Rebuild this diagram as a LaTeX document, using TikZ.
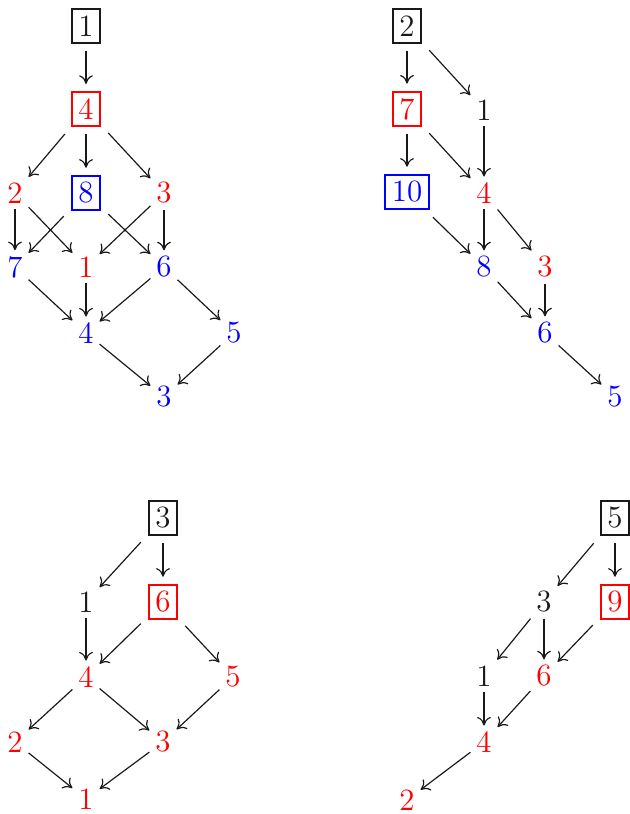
\documentclass[tikz,border=0pt]{standalone}
\usetikzlibrary{arrows.meta}
\definecolor{nblack}{RGB}{25,25,25}
\begin{document}
\begin{tikzpicture}[x=0.465pt,y=-0.465pt,
  every node/.style={font=\Large},
  plain/.style={inner sep=0.5pt,outer sep=2.3pt},
  boxed/.style={draw,line width=0.95pt,inner sep=3pt,outer sep=3.8pt},
  rd/.style={text=red},
  bl/.style={text=blue},
  bk/.style={text=nblack},
  edge/.style={draw=nblack,line width=0.55pt,-{To[length=4pt,width=6.4pt]}}]
\useasboundingbox (0,0) rectangle (630,814);
% panel 1
\node[boxed,bk,draw=nblack] (a1) at (86,26) {1};
\node[boxed,rd,draw=red] (a4) at (86,109) {4};
\node[plain,rd] (a2) at (15,193) {2};
\node[boxed,bl,draw=blue] (a8) at (86,193) {8};
\node[plain,rd] (a3) at (164,193) {3};
\node[plain,bl] (a7) at (15,267) {7};
\node[plain,rd] (a1b) at (86,267) {1};
\node[plain,bl] (a6) at (164,267) {6};
\node[plain,bl] (a4b) at (86,333) {4};
\node[plain,bl] (a5) at (234,333) {5};
\node[plain,bl] (a3b) at (164,397) {3};
\foreach \s/\t in {a1/a4,a4/a2,a4/a8,a4/a3,a2/a7,a2/a1b,a8/a7,a8/a6,a3/a1b,a3/a6,a7/a4b,a1b/a4b,a6/a4b,a6/a5,a4b/a3b,a5/a3b}
  \draw[edge] (\s) -- (\t);
% panel 2
\node[boxed,bk,draw=nblack] (b2) at (407,26) {2};
\node[boxed,rd,draw=red] (b7) at (407,109) {7};
\node[plain,bk] (b1) at (484,110) {1};
\node[boxed,bl,draw=blue] (b10) at (407,192) {10};
\node[plain,rd] (b4) at (484,193) {4};
\node[plain,bl] (b8) at (484,267) {8};
\node[plain,rd] (b3) at (545,267) {3};
\node[plain,bl] (b6) at (545,333) {6};
\node[plain,bl] (b5) at (615,397) {5};
\foreach \s/\t in {b2/b7,b2/b1,b7/b10,b7/b4,b1/b4,b10/b8,b4/b8,b4/b3,b8/b6,b3/b6,b6/b5}
  \draw[edge] (\s) -- (\t);
% panel 3
\node[boxed,bk,draw=nblack] (c3) at (163,518) {3};
\node[plain,bk] (c1) at (86,602) {1};
\node[boxed,rd,draw=red] (c6) at (163,602) {6};
\node[plain,rd] (c4) at (86,677) {4};
\node[plain,rd] (c5) at (233,677) {5};
\node[plain,rd] (c2) at (15,742) {2};
\node[plain,rd] (c3b) at (163,742) {3};
\node[plain,rd] (c1b) at (86,799) {1};
\foreach \s/\t in {c3/c1,c3/c6,c1/c4,c6/c4,c6/c5,c4/c2,c4/c3b,c5/c3b,c2/c1b,c3b/c1b}
  \draw[edge] (\s) -- (\t);
% panel 4
\node[boxed,bk,draw=nblack] (d5) at (615,518) {5};
\node[plain,bk] (d3) at (544,602) {3};
\node[boxed,rd,draw=red] (d9) at (615,602) {9};
\node[plain,bk] (d1) at (484,676) {1};
\node[plain,rd] (d6) at (544,676) {6};
\node[plain,rd] (d4) at (484,742) {4};
\node[plain,rd] (d2) at (407,800) {2};
\foreach \s/\t in {d5/d3,d5/d9,d3/d1,d3/d6,d9/d6,d1/d4,d6/d4,d4/d2}
  \draw[edge] (\s) -- (\t);
\end{tikzpicture}
\end{document}
